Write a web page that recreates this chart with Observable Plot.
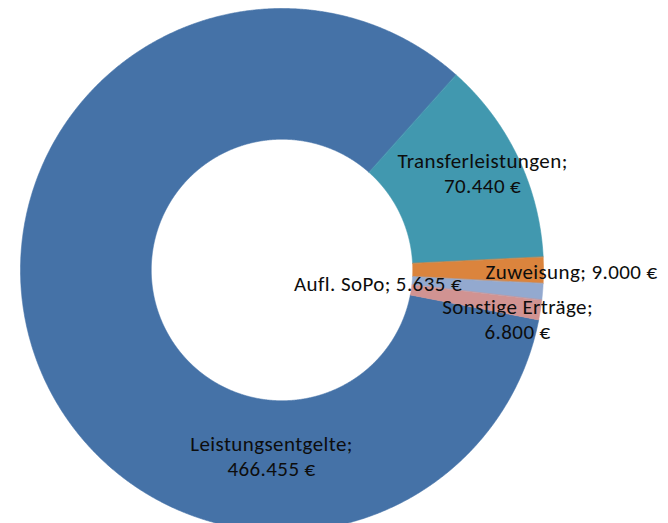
<!DOCTYPE html>
<html>
<head>
<meta charset="utf-8">
<script src="https://cdn.jsdelivr.net/npm/d3@7"></script>
<script src="https://cdn.jsdelivr.net/npm/@observablehq/plot@0.6"></script>
<style>
  html, body { margin: 0; padding: 0; background: #fff; }
  #chart svg { display: block; }
  #chart text { letter-spacing: 0.4px; }
</style>
</head>
<body>
<div id="chart"></div>
<script>
// ---- data ----
const categories = ["Leistungsentgelte", "Transferleistungen", "Zuweisung", "Aufl. SoPo", "Sonstige Erträge"];
const values = [466455, 70440, 9000, 5635, 6800];
const colors = ["#4572A7", "#4198AF", "#DB843D", "#93A9CF", "#D19392"];
const labelBreak = [true, true, false, false, true];

// ---- layout (not data) ----
const W = 668, H = 523;
const cx = 281.5, cy = 269.5, R = 261.5, holeRatio = 0.5;
const firstSliceAngle = 101; // degrees, clockwise from 12 o'clock
const labelX = [-0.040, 0.767, 1.107, 0.367, 0.901];
const labelY = [-0.709, 0.372, -0.005, -0.050, -0.186];

const de = d3.formatLocale({decimal: ",", thousands: ".", grouping: [3], currency: ["", " €"]});
const fmt = de.format(",.0f");

const start = firstSliceAngle * Math.PI / 180;
const arcs = d3.pie().sort(null).startAngle(start).endAngle(start + 2 * Math.PI)(values);

// polygon outline of each ring segment in unit coordinates
const poly = [];
arcs.forEach((a, i) => {
  const n = Math.max(2, Math.ceil((a.endAngle - a.startAngle) / (0.25 * Math.PI / 180)));
  const pts = [];
  for (let k = 0; k <= n; k++) {
    const t = a.startAngle + (a.endAngle - a.startAngle) * k / n;
    pts.push({t, r: 1});
  }
  for (let k = n; k >= 0; k--) {
    const t = a.startAngle + (a.endAngle - a.startAngle) * k / n;
    pts.push({t, r: holeRatio});
  }
  pts.forEach((p, j) => poly.push({name: categories[i], x: p.r * Math.sin(p.t), y: p.r * Math.cos(p.t), order: j}));
});

const labels = categories.map((c, i) => ({
  text: c + ";" + (labelBreak[i] ? "\n" : " ") + fmt(values[i]) + " €",
  x: labelX[i],
  y: labelY[i]
}));

const chart = Plot.plot({
  width: W,
  height: H,
  margin: 0,
  style: {background: "#fff", fontFamily: "Carlito, Calibri, Lato, sans-serif"},
  x: {domain: [-1, 1], range: [cx - R, cx + R], axis: null},
  y: {domain: [-1, 1], range: [cy + R, cy - R], axis: null},
  color: {domain: categories, range: colors},
  marks: [
    Plot.line(poly, {x: "x", y: "y", z: "name", fill: "name", stroke: "name", strokeWidth: 0.6, curve: "linear-closed"}),
    Plot.text(labels, {
      x: "x", y: "y", text: "text",
      fontSize: 21, lineHeight: 1.19, lineAnchor: "middle", textAnchor: "middle",
      fill: "#0d0d0d"
    })
  ]
});
document.getElementById("chart").appendChild(chart);
</script>
</body>
</html>
